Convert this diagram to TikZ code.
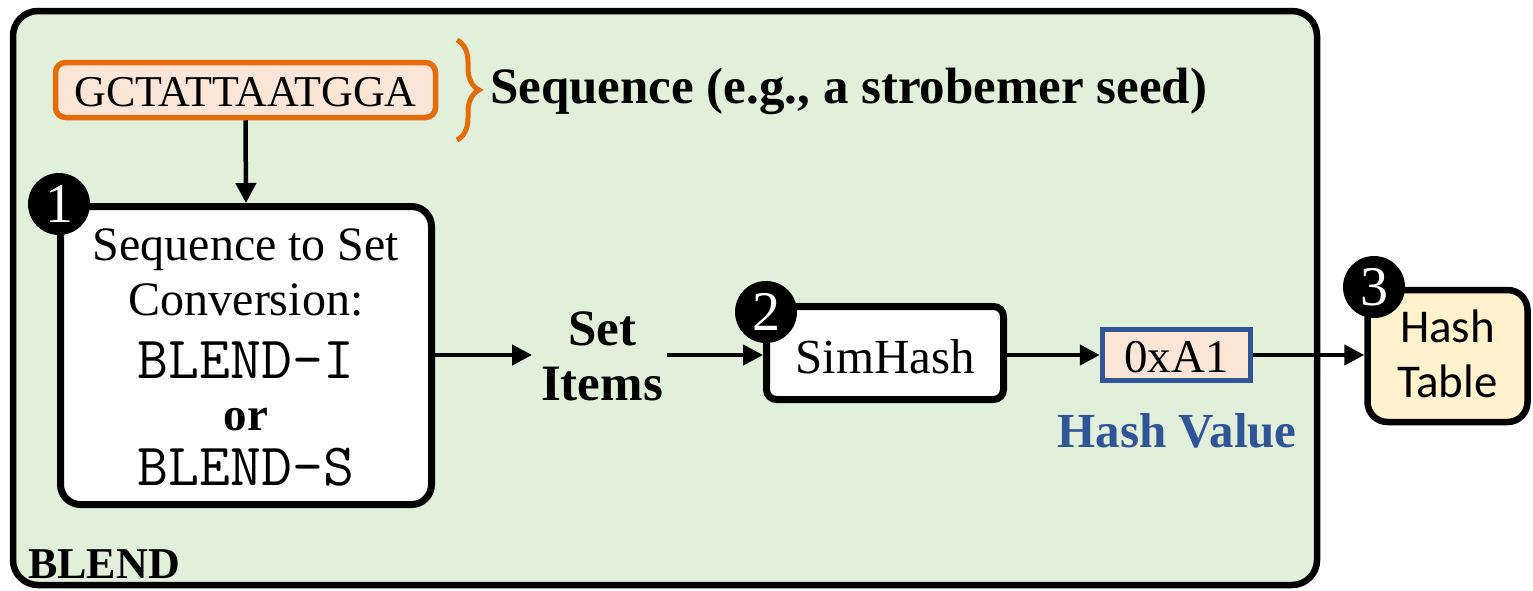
\documentclass[tikz,border=0pt]{standalone}
\usepackage{fontspec}
\setmainfont{Liberation Serif}
\newfontfamily\calib{Carlito}
\usetikzlibrary{arrows.meta,decorations.pathreplacing}
\definecolor{bggreen}{HTML}{E2EFDA}
\definecolor{peach}{HTML}{FBE5D6}
\definecolor{orng}{HTML}{E46C0A}
\definecolor{hvblue}{HTML}{2F5597}
\definecolor{htyellow}{HTML}{FFF2CC}
\tikzset{
  box/.style={draw=black,line width=7pt,fill=white,rounded corners=20pt,inner sep=0pt},
  arr/.style={line width=4.5pt,-{Triangle[length=20pt,width=20pt]}},
  num/.style={circle,fill=black,minimum size=62pt,inner sep=0pt,text=white,font=\fontsize{56}{56}\selectfont},
  txt/.style={inner sep=0pt,anchor=base},
}
\begin{document}
\begin{tikzpicture}[x=1pt,y=-1pt]
\useasboundingbox (0,0) rectangle (1533,590);
\node[draw=black,line width=6.5pt,fill=bggreen,rounded corners=25pt,minimum width=1304pt,minimum height=574pt,inner sep=0pt] (outer) at (665,298) {};
\node[txt,anchor=base west,font=\fontsize{44}{44}\selectfont\bfseries] (blend) at (28,578) {BLEND};
% sequence
\node[draw=orng,line width=5.5pt,fill=peach,rounded corners=10pt,minimum width=380pt,minimum height=55pt,inner sep=0pt] (seq) at (245.5,90) {};
\node[txt,font=\fontsize{44}{44}\selectfont] (seqt) at (245.5,106) {GCTATTAATGGA};
\draw[orng,line width=5pt,decorate,decoration={brace,amplitude=22pt}] (457,40) -- (457,140);
\node[txt,anchor=base west,font=\fontsize{51}{51}\selectfont\bfseries] (seql) at (490,103) {Sequence (e.g., a strobemer seed)};
% box 1
\node[box,minimum width=371pt,minimum height=298pt] (b1) at (246,355.5) {};
\node[txt,font=\fontsize{48}{48}\selectfont] (b1a) at (246,260) {Sequence to Set};
\node[txt,font=\fontsize{48}{48}\selectfont] (b1b) at (246,315) {Conversion:};
\node[txt,font=\fontsize{60}{60}\selectfont\ttfamily] (b1c) at (246,378) {BLEND-I};
\node[txt,font=\fontsize{47}{47}\selectfont\bfseries] (b1d) at (246,430) {or};
\node[txt,font=\fontsize{60}{60}\selectfont\ttfamily] (b1e) at (246,485) {BLEND-S};
\draw[arr] (seq.south) -- (b1.north);
% set items
\node[txt,font=\fontsize{51}{51}\selectfont\bfseries] (si1) at (602,345) {Set};
\node[txt,font=\fontsize{51}{51}\selectfont\bfseries] (si2) at (602,400) {Items};
\coordinate (siL) at (532,355);
\coordinate (siR) at (667,355);
\draw[arr] (b1.east |- siL) -- (siL);
% simhash
\node[box,minimum width=237pt,minimum height=93pt,rounded corners=10pt] (b2) at (885,353) {};
\node[txt,font=\fontsize{49}{49}\selectfont] (b2t) at (885,373) {SimHash};
\draw[arr] (siR) -- (b2.west |- siR);
% hash value
\node[draw=hvblue,line width=5.5pt,fill=peach,minimum width=148pt,minimum height=51pt,inner sep=0pt] (hv) at (1176.5,355) {};
\node[txt,font=\fontsize{47}{47}\selectfont] (hvt) at (1176.5,372) {0xA1};
\node[txt,font=\fontsize{49}{49}\selectfont\bfseries,text=hvblue] (hvl) at (1177,447) {Hash Value};
\draw[arr] (b2.east |- hv.west) -- (hv.west);
% hash table
\node[draw=black,line width=6.5pt,fill=htyellow,rounded corners=20pt,minimum width=160pt,minimum height=132pt,inner sep=0pt] (ht) at (1447.5,356) {};
\node[txt,font=\fontsize{47}{47}\selectfont\calib] (hta) at (1447.5,342) {Hash};
\node[txt,font=\fontsize{47}{47}\selectfont\calib] (htb) at (1447.5,397) {Table};
\draw[arr] (hv.east) -- (ht.west |- hv.east);
% numbers
\node[num] (n1) at (59,204) {1};
\node[num] (n2) at (766,312) {2};
\node[num] (n3) at (1374,287) {3};
\end{tikzpicture}
\end{document}
